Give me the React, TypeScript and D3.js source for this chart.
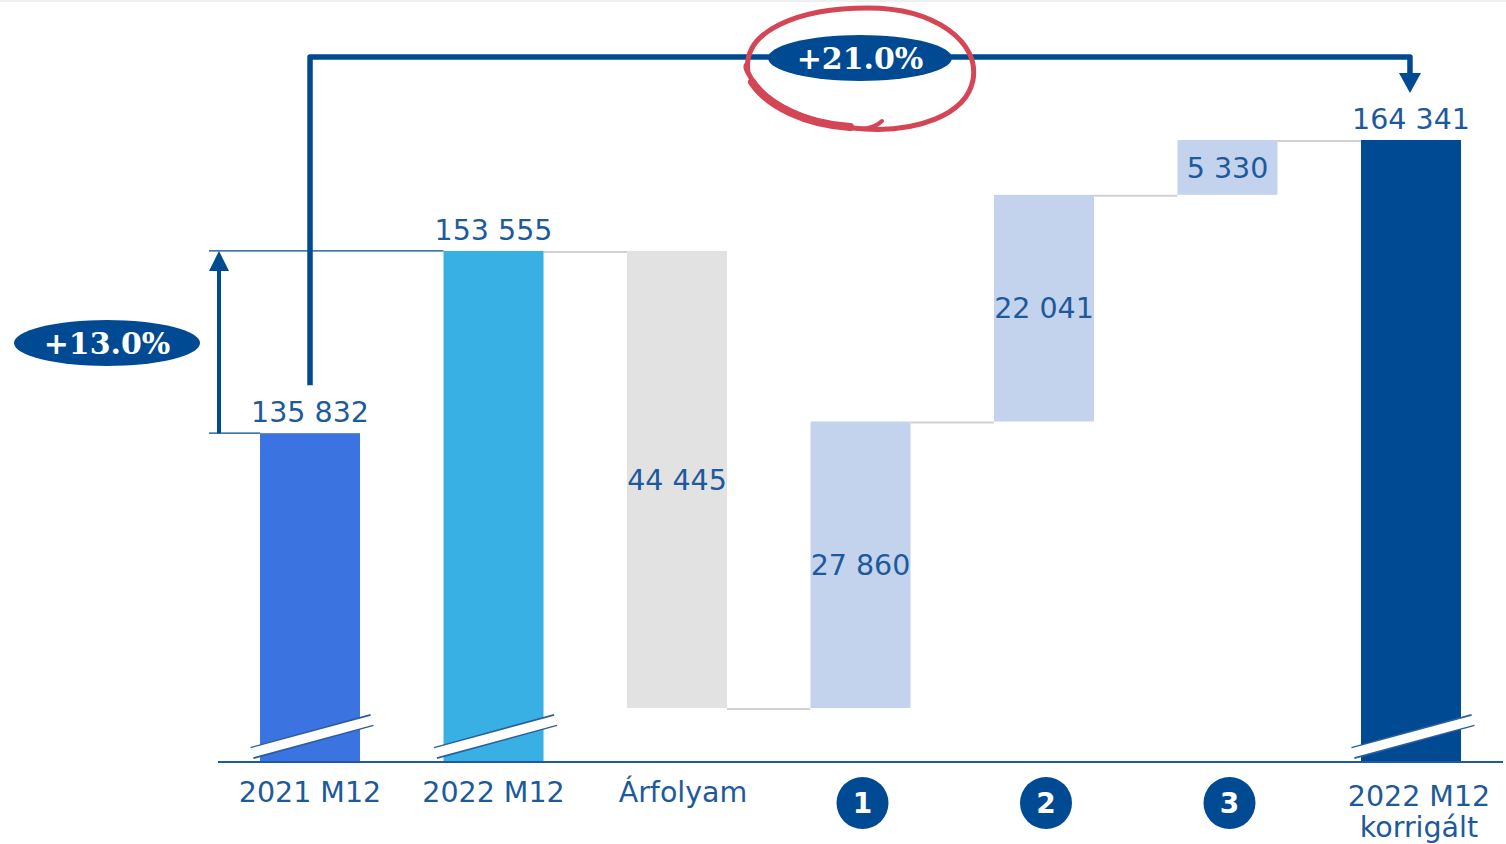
import React from 'react';
import * as d3 from 'd3';

// waterfall data
const categories = ['2021 M12', '2022 M12', 'Árfolyam', '1', '2', '3', '2022 M12 korrigált'];
const values = [135832, 153555, -44445, 27860, 22041, 5330, 164341];
const kinds = ['total', 'total', 'delta', 'delta', 'delta', 'delta', 'total'];
const barColors = ['#3B73E0', '#38B0E3', '#E3E2E3', '#C3D3EE', '#C3D3EE', '#C3D3EE', '#004A93'];
const axisFloor = 103860; // the broken axis starts here
const growthLabels = ['+13.0%', '+21.0%'];

const W = 1506, H = 844;
const navy = '#004A93';
const textBlue = '#1D5A9C';
const sans = '"DejaVu Sans", Verdana, sans-serif';
const serif = '"DejaVu Serif", Georgia, serif';

const fmt = d3.formatLocale({ decimal: ',', thousands: ' ', grouping: [3], currency: ['', ''] }).format(',d');

// build running totals
type Bar = { cat: string; y0: number; y1: number; kind: string; color: string; value: number };
const bars: Bar[] = [];
let running = 0;
categories.forEach((c, i) => {
    if (kinds[i] === 'total') {
        running = values[i];
        bars.push({ cat: c, y0: axisFloor, y1: values[i], kind: 'total', color: barColors[i], value: values[i] });
    } else {
        const start = running;
        running += values[i];
        bars.push({ cat: c, y0: Math.min(start, running), y1: Math.max(start, running), kind: 'delta', color: barColors[i], value: values[i] });
    }
});

const App = () => {
    const x = d3.scaleBand<string>()
        .domain(categories)
        .range([218, 1503])
        .paddingInner(0.455)
        .paddingOuter(0.229);
    const y = d3.scaleLinear()
        .domain([axisFloor, 164341])
        .range([762, 140]);
    const bw = x.bandwidth();
    const cx = (c: string) => (x(c) as number) + bw / 2;
    const baseY = y(axisFloor);

    // connector lines between consecutive bars (not between two totals)
    const connectors = bars.slice(0, -1).map((b, i) => {
        const next = bars[i + 1];
        if (b.kind === 'total' && next.kind === 'total') return null;
        const level = b.kind === 'total' ? b.y1 : (values[i] < 0 ? b.y0 : b.y1);
        return { x1: (x(b.cat) as number) + bw, x2: x(next.cat) as number, y: y(level) };
    }).filter(Boolean) as { x1: number; x2: number; y: number }[];

    const first = bars[0], second = bars[1], last = bars[bars.length - 1];
    const bracketY = 57;
    const arrowX = 219;

    return (
        <svg width={W} height={H} style={{ position: 'absolute', left: 0, top: 0, background: '#fff' }}>
            <rect x={0} y={0} width={W} height={2} fill="#EEF0F3" />

            {/* reference lines at the two first totals */}
            <line x1={arrowX - 10} x2={x(second.cat) as number} y1={y(second.y1)} y2={y(second.y1)} stroke={navy} strokeWidth={1.3} />
            <line x1={arrowX - 10} x2={x(first.cat) as number} y1={y(first.y1)} y2={y(first.y1)} stroke={navy} strokeWidth={1.3} />

            {/* connectors */}
            {connectors.map((c, i) => (
                <line key={'c' + i} x1={c.x1} x2={c.x2} y1={c.y + 1} y2={c.y + 1} stroke="#D2D2D2" strokeWidth={2} />
            ))}

            {/* bars */}
            {bars.map(b => (
                <rect key={b.cat} x={x(b.cat)} y={y(b.y1)} width={bw} height={y(b.y0) - y(b.y1)} fill={b.color} />
            ))}

            {/* axis break marks on total bars */}
            {bars.filter(b => b.kind === 'total').map(b => {
                const x0 = (x(b.cat) as number) - 8, x1 = (x(b.cat) as number) + bw + 12;
                return (
                    <g key={'brk' + b.cat}>
                        <line x1={x0} y1={baseY - 9} x2={x1} y2={baseY - 42} stroke="#2C5E9E" strokeWidth={12.5} />
                        <line x1={x0 - 1} y1={baseY - 9} x2={x1 + 1} y2={baseY - 42} stroke="#fff" strokeWidth={9.5} />
                    </g>
                );
            })}

            {/* baseline */}
            <line x1={218} x2={1503} y1={baseY} y2={baseY} stroke="#1F5A9E" strokeWidth={2} />

            {/* value labels */}
            {bars.map(b => b.kind === 'total' ? (
                <text key={'v' + b.cat} x={cx(b.cat)} y={y(b.y1) - 11} textAnchor="middle" fontFamily={sans} fontSize={28.5} fill={textBlue}>{fmt(b.value)}</text>
            ) : (
                <text key={'v' + b.cat} x={cx(b.cat)} y={(y(b.y0) + y(b.y1)) / 2} dy="0.36em" textAnchor="middle" fontFamily={sans} fontSize={28.5} fill={textBlue}>{fmt(Math.abs(b.value))}</text>
            ))}

            {/* category labels */}
            {categories.map((c, i) => {
                if (/^\d$/.test(c)) {
                    return (
                        <g key={'cat' + c} transform={`translate(${cx(c) + 2},803)`}>
                            <circle r={26} fill={navy} />
                            <text textAnchor="middle" dy="0.36em" fontFamily={sans} fontWeight="bold" fontSize={28} fill="#fff">{c}</text>
                        </g>
                    );
                }
                const parts = c === '2022 M12 korrigált' ? ['2022 M12', 'korrigált'] : [c];
                const shift = i === categories.length - 1 ? 8 : (c === 'Árfolyam' ? 6 : 0);
                return (
                    <text key={'cat' + c} x={cx(c) + shift} y={parts.length > 1 ? 806 : 802} textAnchor="middle" fontFamily={sans} fontSize={28.5} fill={textBlue}>
                        {parts.map((p, k) => <tspan key={k} x={cx(c) + shift} dy={k === 0 ? 0 : 31}>{p}</tspan>)}
                    </text>
                );
            })}

            {/* left growth arrow */}
            <line x1={arrowX} x2={arrowX} y1={y(first.y1)} y2={y(second.y1) + 16} stroke={navy} strokeWidth={4} />
            <path d={`M${arrowX - 10},${y(second.y1) + 20} L${arrowX},${y(second.y1)} L${arrowX + 10},${y(second.y1) + 20} Z`} fill={navy} />
            <ellipse cx={107} cy={343} rx={93} ry={23} fill={navy} />
            <text x={107} y={343} dy="0.35em" textAnchor="middle" fontFamily={serif} fontWeight="bold" fontSize={30} fill="#fff">{growthLabels[0]}</text>

            {/* top bracket */}
            <path d={`M${cx(first.cat)},${y(first.y1) - 48} V${bracketY} H${cx(last.cat) - 1} V${bracketY + 18}`} fill="none" stroke={navy} strokeWidth={5.5} strokeLinejoin="round" />
            <path d={`M${cx(last.cat) - 12},${bracketY + 16} L${cx(last.cat) - 1},${bracketY + 36} L${cx(last.cat) + 10},${bracketY + 16} Z`} fill={navy} />
            <ellipse cx={860} cy={bracketY + 1} rx={92} ry={23} fill={navy} />
            <text x={860} y={bracketY + 1} dy="0.35em" textAnchor="middle" fontFamily={serif} fontWeight="bold" fontSize={30} fill="#fff">{growthLabels[1]}</text>

            {/* red hand-drawn highlight */}
            <path d="M748,72 C742,30 800,8 868,8 C935,8 980,42 973,80 C966,116 915,132 865,129 C810,126 768,104 752,80 C748,72 744,68 747,64"
                fill="none" stroke="#D44555" strokeWidth={5} strokeLinecap="round" />
            <path d="M752,82 C768,106 805,124 850,127" fill="none" stroke="#D44555" strokeWidth={8} strokeLinecap="round" />
            <path d="M862,129 C872,128 878,125 882,121" fill="none" stroke="#D44555" strokeWidth={4} strokeLinecap="round" />
        </svg>
    );
};

export default App;
